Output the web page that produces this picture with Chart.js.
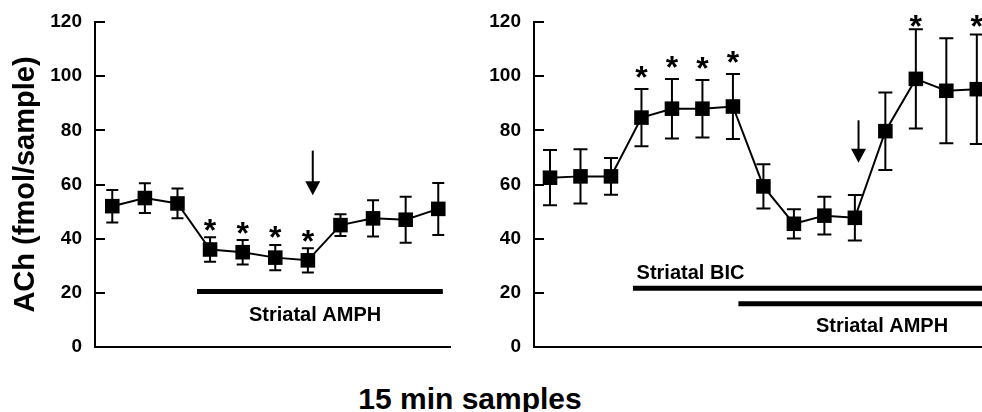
<!DOCTYPE html>
<html><head><meta charset="utf-8">
<script src="https://cdn.jsdelivr.net/npm/chart.js@4.4.0/dist/chart.umd.min.js"></script>
<style>
html,body{margin:0;padding:0;background:#fff;width:982px;height:412px;overflow:hidden;}
canvas{position:absolute;top:0;display:block;}
#cl{left:0;}
#cr{left:460px;}
#xt{position:absolute;left:0;top:384px;width:940px;text-align:center;font-family:'Liberation Sans',Arial,Helvetica,sans-serif;font-weight:bold;font-size:30px;line-height:29px;color:#000;white-space:nowrap;}
</style></head><body>
<canvas id="cl" width="460" height="360"></canvas>
<canvas id="cr" width="522" height="360"></canvas>
<div id="xt">15 min samples</div>
<script>
// ---- data ----
const leftSamples  = [1, 2, 3, 4, 5, 6, 7, 8, 9, 10, 11];
const leftMeans    = [52, 55, 53, 36, 35, 33, 32, 45, 47.5, 47, 51];
const leftErrors   = [6, 5.5, 5.5, 4.5, 4.5, 4.7, 4.5, 4, 6.7, 8.5, 9.6];
const leftStars    = [0, 0, 0, 1, 1, 1, 1, 0, 0, 0, 0];

const rightSamples = [1, 2, 3, 4, 5, 6, 7, 8, 9, 10, 11, 12, 13, 14, 15];
const rightMeans   = [62.5, 63, 63, 84.7, 88, 88, 88.8, 59.3, 45.5, 48.5, 47.7, 79.7, 99, 94.6, 95.2];
const rightErrors  = [10.2, 10, 6.8, 10.6, 11, 10.6, 12, 8.2, 5.4, 7, 8.4, 14.3, 18.3, 19.4, 20.2];
const rightStars   = [0, 0, 0, 1, 1, 1, 1, 0, 0, 0, 0, 0, 1, 0, 1];

const yTicks = [0, 20, 40, 60, 80, 100, 120];
const yTitle = 'ACh (fmol/sample)';

const FONT = "'Liberation Sans', Arial, Helvetica, sans-serif";

const decor = {
  id: 'decor',
  beforeDatasetsDraw(chart, args, o) {
    const ctx = chart.ctx, x = chart.scales.x, y = chart.scales.y;
    ctx.save();
    ctx.strokeStyle = '#000';
    ctx.lineWidth = 2;
    yTicks.forEach(v => {
      const py = Math.round(y.getPixelForValue(v));
      ctx.beginPath(); ctx.moveTo(x.left, py); ctx.lineTo(x.left + 10, py); ctx.stroke();
    });
    o.means.forEach((m, i) => {
      const px = x.getPixelForValue(i);
      const t = y.getPixelForValue(m + o.errors[i]);
      const b = y.getPixelForValue(m - o.errors[i]);
      ctx.beginPath();
      ctx.moveTo(px, t); ctx.lineTo(px, b);
      ctx.moveTo(px - o.cap, t); ctx.lineTo(px + o.cap, t);
      ctx.moveTo(px - o.cap, b); ctx.lineTo(px + o.cap, b);
      ctx.stroke();
    });
    ctx.restore();
  },
  afterDatasetsDraw(chart, args, o) {
    const ctx = chart.ctx, x = chart.scales.x, y = chart.scales.y;
    ctx.save();
    ctx.fillStyle = '#000';
    ctx.strokeStyle = '#000';
    ctx.font = 'bold 32px ' + FONT;
    ctx.textAlign = 'center';
    ctx.textBaseline = 'alphabetic';
    const mt = ctx.measureText('*');
    const asc = mt.actualBoundingBoxAscent, desc = mt.actualBoundingBoxDescent;
    o.means.forEach((m, i) => {
      if (!o.stars[i]) return;
      const px = x.getPixelForValue(i);
      const top = y.getPixelForValue(m + o.errors[i]);
      const cy = Math.max(top - o.starGap, 21);
      ctx.fillText('*', px, cy - (desc - asc) / 2);
    });
    ctx.lineWidth = 5;
    ctx.lineCap = 'butt';
    o.bars.forEach(b => {
      const py = y.getPixelForValue(b.y);
      ctx.beginPath();
      ctx.moveTo(x.getPixelForValue(b.from), py);
      ctx.lineTo(b.to === null ? chart.width + 5 : x.getPixelForValue(b.to), py);
      ctx.stroke();
    });
    ctx.font = 'bold 20px ' + FONT;
    o.labels.forEach(l => {
      ctx.textAlign = l.align;
      ctx.fillText(l.text, x.getPixelForValue(l.x), y.getPixelForValue(l.y));
    });
    const a = o.arrow;
    const ax = x.getPixelForValue(a.x);
    const atop = y.getPixelForValue(a.top);
    const atip = y.getPixelForValue(a.tip);
    ctx.lineWidth = 2;
    ctx.beginPath(); ctx.moveTo(ax, atop); ctx.lineTo(ax, atip - 13); ctx.stroke();
    ctx.beginPath();
    ctx.moveTo(ax - 7.5, atip - 14); ctx.lineTo(ax + 7.5, atip - 14); ctx.lineTo(ax, atip);
    ctx.closePath(); ctx.fill();
    ctx.restore();
  }
};

function makeChart(id, samples, means, errors, stars, xmin, xmax, yWidth, padRight, showTitle, extra) {
  return new Chart(document.getElementById(id), {
    type: 'line',
    data: {
      datasets: [{
        data: samples.map((s, i) => ({x: i, y: means[i]})),
        borderColor: '#000',
        borderWidth: 2,
        pointStyle: 'rect',
        pointRadius: 10.3,
        pointHoverRadius: 10.3,
        pointBackgroundColor: '#000',
        pointBorderWidth: 0,
        tension: 0
      }]
    },
    options: {
      responsive: false,
      animation: false,
      events: [],
      layout: {autoPadding: false, padding: {top: 22, bottom: 13, left: 0, right: padRight}},
      plugins: {
        legend: {display: false},
        tooltip: {enabled: false},
        decor: Object.assign({means, errors, stars}, extra)
      },
      scales: {
        x: {
          type: 'linear', min: xmin, max: xmax,
          ticks: {display: false},
          grid: {display: false, drawTicks: false},
          border: {display: true, color: '#000', width: 2},
          afterFit: s => { s.height = 0; s.paddingLeft = 0; s.paddingRight = 0; s.paddingTop = 0; s.paddingBottom = 0; }
        },
        y: {
          min: 0, max: 120,
          afterBuildTicks: s => { s.ticks = yTicks.map(v => ({value: v})); },
          ticks: {color: '#000', padding: 13, font: {family: FONT, size: 19, weight: 'bold'}},
          grid: {display: false, drawTicks: false},
          border: {display: true, color: '#000', width: 2},
          title: {display: showTitle, text: yTitle, color: '#000',
                  font: {family: FONT, size: 29, weight: 'bold'}, padding: {top: 9, bottom: 0}},
          afterFit: s => { s.width = yWidth; s.paddingTop = 0; s.paddingBottom = 0; s.paddingLeft = 0; s.paddingRight = 0; }
        }
      }
    },
    plugins: [decor]
  });
}

makeChart('cl', leftSamples, leftMeans, leftErrors, leftStars, -0.53, 10.36, 95, 10, true, {
  cap: 6, starGap: 12.5,
  bars: [{from: 2.6, to: 10.14, y: 20.5}],
  labels: [{text: 'Striatal AMPH', x: 6.22, y: 9.6, align: 'center'}],
  arrow: {x: 6.15, top: 72.5, tip: 56}
});
makeChart('cr', rightSamples, rightMeans, rightErrors, rightStars, -0.525, 14.17, 74, 0, false, {
  cap: 7, starGap: 17,
  bars: [{from: 2.72, to: null, y: 21.7}, {from: 6.18, to: null, y: 16}],
  labels: [{text: 'Striatal BIC', x: 2.84, y: 25.1, align: 'left'},
           {text: 'Striatal AMPH', x: 10.89, y: 5.7, align: 'center'}],
  arrow: {x: 10.12, top: 83.7, tip: 68}
});
</script>
</body></html>
